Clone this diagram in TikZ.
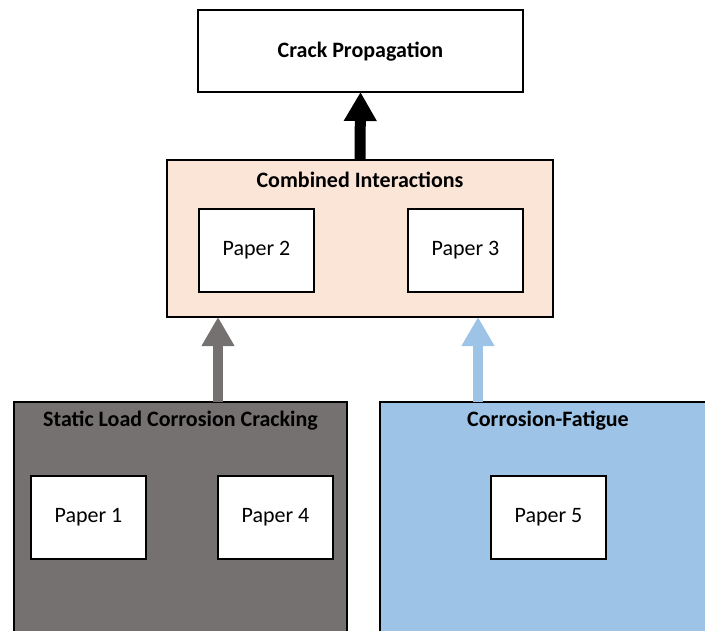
\documentclass[tikz,border=0pt]{standalone}
\usepackage{fontspec}
\setmainfont{Carlito}
\usetikzlibrary{arrows.meta}
\definecolor{peach}{HTML}{FBE5D6}
\definecolor{darkgray}{HTML}{767171}
\definecolor{lightblue}{HTML}{9DC3E6}
\tikzset{
  box/.style={draw=black, line width=2.2pt, anchor=north west, inner sep=0pt, outer sep=0pt},
  paper/.style={box, fill=white, minimum width=115pt, minimum height=83pt, font=\fontsize{22}{24}\selectfont},
  title/.style={font=\bfseries\fontsize{22}{24}\selectfont, inner sep=0pt},
  bigarrow/.style={line width=11pt, -{Triangle[length=29pt,width=31pt]}, line cap=butt}
}
\begin{document}
\begin{tikzpicture}[x=1pt,y=-1pt]
\useasboundingbox (0,0) rectangle (705,630);
\clip (0,0) rectangle (705,630);
\coordinate (ga) at (218,0);
\coordinate (ba) at (478,0);
% boxes
\node[box, fill=white, minimum width=325pt, minimum height=82pt] (top) at (198,10) {};
\node[title] (toptitle) at (360.5,52) {Crack Propagation};
\node[box, fill=peach, minimum width=386pt, minimum height=157pt] (comb) at (167,160) {};
\node[title] (combtitle) at (360,180) {Combined Interactions};
\node[paper] (p2) at (199,209) {Paper 2};
\node[paper] (p3) at (408,209) {Paper 3};
\node[box, fill=darkgray, minimum width=333pt, minimum height=260pt] (static) at (14,402) {};
\node[title] (stitle) at (180.5,421) {Static Load Corrosion Cracking};
\node[paper] (p1) at (31,476) {Paper 1};
\node[paper] (p4) at (218,476) {Paper 4};
\node[box, fill=lightblue, minimum width=336pt, minimum height=260pt] (cf) at (380,402) {};
\node[title] (cftitle) at (548,421) {Corrosion-Fatigue};
\node[paper] (p5) at (491,476) {Paper 5};
% connectors
\draw[bigarrow, black] (comb.north) -- (top.south);
\draw[bigarrow, darkgray, line width=10pt] (ga |- static.north) -- (ga |- comb.south);
\draw[bigarrow, lightblue, line width=10pt] (ba |- cf.north) -- (ba |- comb.south);
\end{tikzpicture}
\end{document}
